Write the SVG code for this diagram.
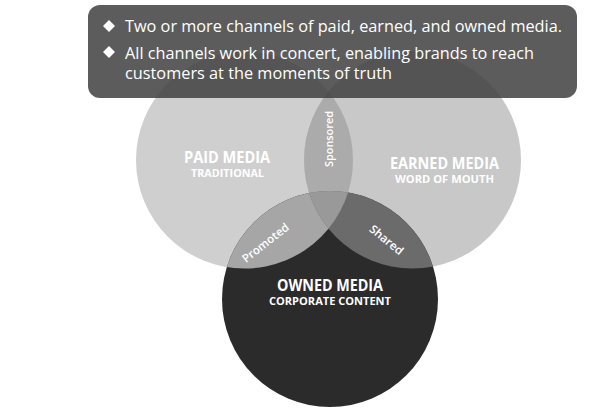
<svg xmlns="http://www.w3.org/2000/svg" width="600" height="408" viewBox="0 0 600 408">
<style>
.lbl{font-family:"Open Sans","Noto Sans",sans-serif;fill:#fff;text-anchor:middle;font-weight:700}
.big{font-size:16px}
.sm{font-size:11px}
.lens{font-family:"Open Sans","Noto Sans",sans-serif;fill:#fff;text-anchor:middle;font-weight:600;font-size:11.5px}
.hdr{font-family:"Open Sans","Noto Sans",sans-serif;fill:#fff;font-size:16px}
</style>
<defs>
<clipPath id="cA"><circle cx="244.5" cy="160" r="108.5"/></clipPath>
<clipPath id="cB"><circle cx="412.5" cy="160" r="108.5"/></clipPath>
<clipPath id="cC"><circle cx="330" cy="299" r="108"/></clipPath>
</defs>
<rect width="600" height="408" fill="#fff"/>
<g id="paid">
<circle cx="244.5" cy="160" r="108.5" fill="#cfcfcf"/>
</g>
<g id="earned">
<circle cx="412.5" cy="160" r="108.5" fill="#c8c8c8"/>
</g>
<g id="owned">
<circle cx="330" cy="299" r="108" fill="#2b2b2b"/>
</g>
<g id="sponsored">
<circle cx="412.5" cy="160" r="108.5" fill="#ababab" clip-path="url(#cA)"/>
</g>
<g id="promoted">
<circle cx="330" cy="299" r="108" fill="#a6a6a6" clip-path="url(#cA)"/>
</g>
<g id="shared">
<circle cx="330" cy="299" r="108" fill="#6b6b6b" clip-path="url(#cB)"/>
</g>
<g id="center">
<g clip-path="url(#cA)"><circle cx="330" cy="299" r="108" fill="#999" clip-path="url(#cB)"/></g>
</g>
<g id="labels">
<text class="lbl big" x="227" y="163" textLength="86" lengthAdjust="spacingAndGlyphs">PAID MEDIA</text>
<text class="lbl sm" x="227.5" y="177" textLength="73" lengthAdjust="spacingAndGlyphs">TRADITIONAL</text>
<text class="lbl big" x="444.5" y="169" textLength="109" lengthAdjust="spacingAndGlyphs">EARNED MEDIA</text>
<text class="lbl sm" x="444.5" y="183" textLength="99" lengthAdjust="spacingAndGlyphs">WORD OF MOUTH</text>
<text class="lbl big" x="330" y="291" textLength="106" lengthAdjust="spacingAndGlyphs">OWNED MEDIA</text>
<text class="lbl sm" x="330" y="305" textLength="122" lengthAdjust="spacingAndGlyphs">CORPORATE CONTENT</text>
<text class="lens" transform="translate(333,139) rotate(-90)" x="0" y="0" textLength="56" lengthAdjust="spacingAndGlyphs">Sponsored</text>
<text class="lens" transform="translate(268,246) rotate(-38)" x="0" y="0" textLength="56" lengthAdjust="spacingAndGlyphs">Promoted</text>
<text class="lens" transform="translate(384,243) rotate(39)" x="0" y="0" textLength="40" lengthAdjust="spacingAndGlyphs">Shared</text>
</g>
<g id="callout">
<rect x="88" y="5" width="489" height="93" rx="12" fill="#404040" fill-opacity="0.85"/>
<polygon points="109,20 115,26 109,32 103,26" fill="#fff"/>
<polygon points="109,46 115,52 109,58 103,52" fill="#fff"/>
<text class="hdr" x="125" y="32" textLength="437" lengthAdjust="spacingAndGlyphs">Two or more channels of paid, earned, and owned media.</text>
<text class="hdr" x="125" y="59" textLength="409" lengthAdjust="spacingAndGlyphs">All channels work in concert, enabling brands to reach</text>
<text class="hdr" x="125" y="79" textLength="267" lengthAdjust="spacingAndGlyphs">customers at the moments of truth</text>
</g>
</svg>
